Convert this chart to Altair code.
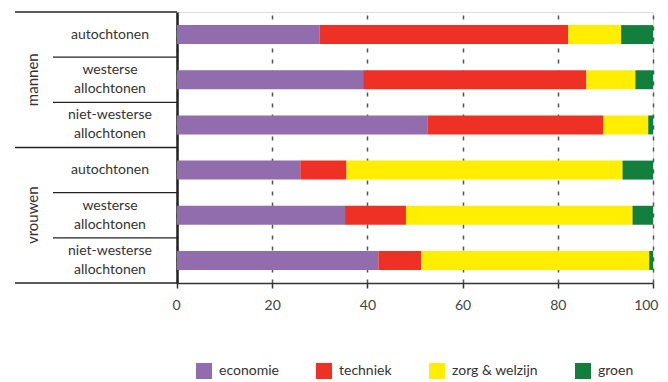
import altair as alt
import pandas as pd

# ---- data ----
groups = ["mannen", "vrouwen"]
origins = ["autochtonen", "westerse allochtonen", "niet-westerse allochtonen"]
origin_labels = ["autochtonen", "westerse\nallochtonen", "niet-westerse\nallochtonen"]
categories = ["economie", "techniek", "zorg & welzijn", "groen"]
colors = ["#926DAE", "#EE3124", "#FFEE00", "#127F3F"]

economie = [30.0, 39.1, 52.6, 25.9, 35.3, 42.3]
techniek = [52.2, 46.9, 37.0, 9.7, 12.8, 9.0]
zorg_welzijn = [11.1, 10.3, 9.4, 58.0, 47.6, 47.9]
groen = [6.7, 3.7, 1.0, 6.4, 4.3, 0.8]
tick_values = [0, 20, 40, 60, 80, 100]

series = [economie, techniek, zorg_welzijn, groen]

# ---- tables built from the arrays ----
rows, row_lab, row_lines = [], [], []
for g in groups:
    for o, ol in zip(origins, origin_labels):
        rows.append(f"{g} | {o}")
        row_lab.append(ol)
        row_lines.append(ol.count("\n") + 1)

bar_records = []
for i, r in enumerate(rows):
    for k, (cat, vals) in enumerate(zip(categories, series)):
        bar_records.append({"row": r, "cat": cat, "k": k, "value": vals[i]})
bars_df = pd.DataFrame(bar_records)

labels_df = pd.DataFrame({"row": rows, "label": row_lab, "lines": row_lines})

n_per = len(origins)
boundaries = list(range(len(rows) + 1))
group_b = pd.DataFrame({"b": [b for b in boundaries if b % n_per == 0]})
sub_b = pd.DataFrame({"b": [b for b in boundaries if b % n_per != 0]})
group_df = pd.DataFrame({"group": groups,
                         "mid": [i * n_per + n_per / 2 for i in range(len(groups))]})

FONT = "Lato"
LINE_H = 19
band = alt.Scale(domain=rows, paddingInner=0.58, paddingOuter=0.29)
yq = alt.Scale(domain=[0, len(rows)], reverse=True, nice=False, zero=False)

bars = alt.Chart(bars_df).mark_bar().encode(
    x=alt.X("value:Q", stack="zero",
            scale=alt.Scale(domain=[0, 100], nice=False),
            axis=alt.Axis(values=tick_values, title=None, grid=True,
                          gridDash=[4, 7], gridColor="#555", gridWidth=1.5,
                          domainColor="#333", domainWidth=1.5,
                          tickColor="#333", tickWidth=1.5, tickSize=5,
                          labelFont=FONT, labelFontSize=14, labelColor="#444",
                          labelPadding=10, labelFlush=True, labelFlushOffset=5)),
    y=alt.Y("row:N", sort=rows, scale=band,
            axis=alt.Axis(labels=False, ticks=False, title=None, grid=False,
                          domainColor="#222", domainWidth=2.5)),
    color=alt.Color("cat:N", scale=alt.Scale(domain=categories, range=colors),
                    legend=alt.Legend(title=None, orient="none", legendX=19, legendY=351,
                                      direction="horizontal", symbolType="square",
                                      symbolSize=256, symbolStrokeWidth=0,
                                      symbolOpacity=1, labelFont=FONT,
                                      labelFontSize=14, labelColor="#333",
                                      labelOffset=7, columnPadding=37)),
    order=alt.Order("k:Q"),
)


def row_text_layer(nlines):
    return alt.Chart(labels_df).transform_filter(
        alt.datum.lines == nlines
    ).mark_text(
        font=FONT, fontSize=14, color="#333", lineBreak="\n", lineHeight=LINE_H,
        align="center", baseline="middle", dy=-(nlines - 1) * LINE_H / 2
    ).encode(
        y=alt.Y("row:N", sort=rows, scale=band, axis=None),
        x=alt.value(-67),
        text="label:N",
    )


row_text_1 = row_text_layer(1)
row_text_2 = row_text_layer(2)

group_rules = alt.Chart(group_b).mark_rule(color="#222", strokeWidth=1.3).encode(
    y=alt.Y("b:Q", scale=yq, axis=None),
    x=alt.value(-162), x2=alt.value(0),
)
sub_rules = alt.Chart(sub_b).mark_rule(color="#222", strokeWidth=1.3).encode(
    y=alt.Y("b:Q", scale=yq, axis=None),
    x=alt.value(-124), x2=alt.value(0),
)
group_text = alt.Chart(group_df).mark_text(
    font=FONT, fontSize=15, color="#333", angle=270,
    align="center", baseline="middle"
).encode(
    y=alt.Y("mid:Q", scale=yq, axis=None),
    x=alt.value(-144),
    text="group:N",
)

chart = alt.layer(bars, row_text_1, row_text_2, group_rules, sub_rules,
                  group_text).resolve_scale(
    y="independent"
).properties(
    width=476, height=271,
    padding={"left": 169, "top": 4, "right": 7, "bottom": 97},
    autosize=alt.AutoSizeParams(type="none"),
).configure_view(stroke=None).configure(background="white")

chart.save("out.html", embed_options={"renderer": "svg", "actions": False})
